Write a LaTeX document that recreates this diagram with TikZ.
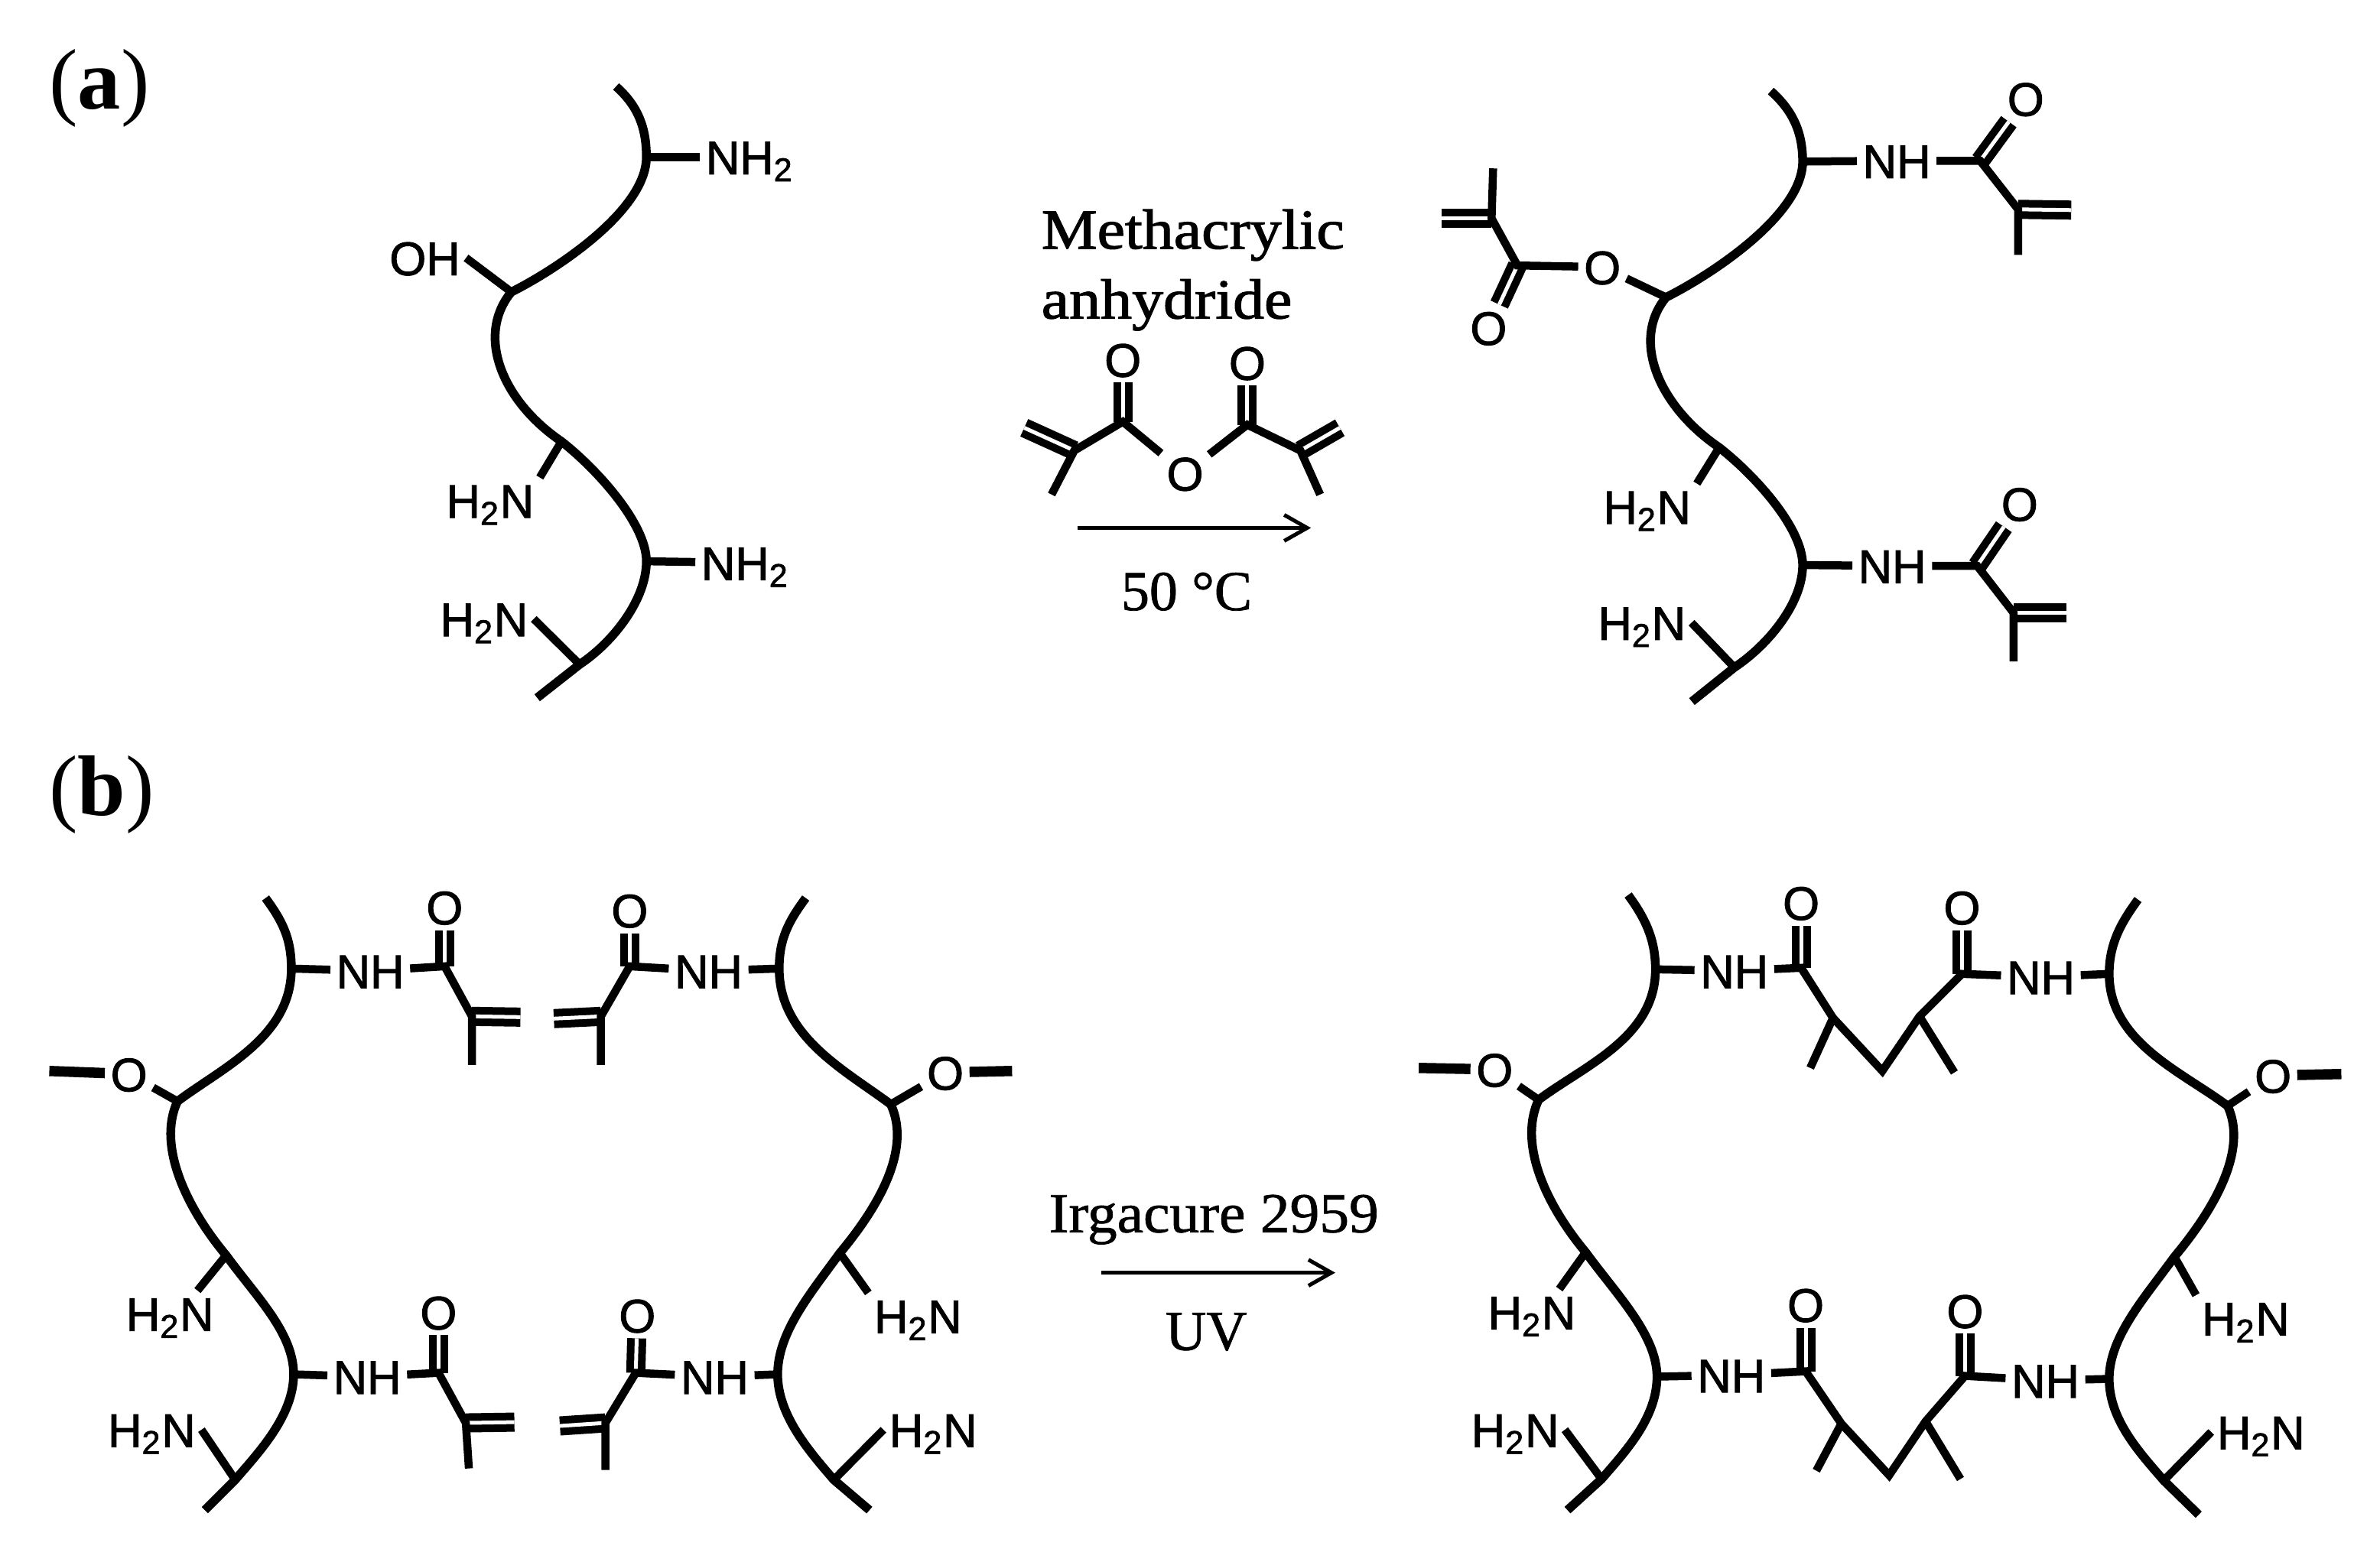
\documentclass[tikz,border=0pt]{standalone}
\usepackage{fontspec}
\setmainfont{Liberation Serif}
\setsansfont{Liberation Sans}
\newfontfamily\atomfont[FakeBold=1.6]{Liberation Sans}
\newfontfamily\capfont[FakeBold=1]{Liberation Serif}
\newfontfamily\widefont[FakeBold=1.6,FakeStretch=1.11]{Liberation Serif}
\newfontfamily\midfont[FakeBold=1,FakeStretch=1.05]{Liberation Serif}
\usetikzlibrary{arrows.meta}

\begin{document}
\begin{tikzpicture}[x=0.00992cm,y=-0.00992cm]

\tikzstyle{atom} = [font=\fontsize{17.5}{20}\selectfont\atomfont, inner sep=0.07cm, text height=0.45cm, text depth=0pt]
\tikzstyle{caption} = [font=\fontsize{21}{26}\selectfont\capfont, inner sep=0pt]
\tikzstyle{panel} = [font=\fontsize{32}{36}\selectfont, inner sep=0pt]
\tikzstyle{chain} = [line width=0.115cm]
\tikzstyle{bond} = [line width=0.105cm]
\tikzstyle{stub} = [line width=0.135cm]
\tikzstyle{dbond} = [line width=0.1cm, double, double distance=0.05cm]
\tikzstyle{arrow} = [line width=0.05cm, -{Straight Barb[length=0.3cm,width=0.34cm]}]

\useasboundingbox (0,0) rectangle (3137,2059);
\fill[white] (0,0) rectangle (3137,2059);

\node (panelA) [panel] at (131,116) {(\textbf{a})};
\node (panelB) [panel] at (134,1048) {(\textbf{b})};

% Starting chain
\coordinate (top1) at (812,114);
\coordinate (c1_1) at (852,207);
\coordinate (c1_2) at (674,385);
\coordinate (c1_3) at (740,582);
\coordinate (c1_4) at (852,740);
\coordinate (c1_5) at (764,876);
\coordinate (end1) at (708,920);
\node (n1_1) [atom] at (988,207) {NH\textsubscript{2}};
\node (oh1) [atom] at (560,340) {OH};
\node (n1_3) [atom] at (646,660) {H\textsubscript{2}N};
\node (n1_4) [atom] at (982,742) {NH\textsubscript{2}};
\node (n1_5) [atom] at (638,816) {H\textsubscript{2}N};

\draw [chain] (top1) .. controls +(28,25) and +(0,-40) .. (c1_1) .. controls +(0,70) and +(60,-30) .. (c1_2) .. controls +(-47,57) and +(-79,-54) .. (c1_3) .. controls +(45,35) and +(0,-50) .. (c1_4) .. controls +(0,50) and +(45,-30) .. (c1_5) -- (end1);
\draw [bond] (c1_1) -- (n1_1);
\draw [bond] (c1_2) -- (oh1.east);
\draw [bond] (c1_3) -- (n1_3.north east);
\draw [bond] (c1_4) -- (n1_4);
\draw [bond] (c1_5) -- (n1_5.east);

% Methacrylic anhydride and reaction arrow
\node (reagent1) [caption, anchor=west, font=\fontsize{21}{26}\selectfont\widefont] at (1372,310) {Methacrylic};
\node (reagent2) [caption, anchor=west, font=\fontsize{21}{26}\selectfont\widefont] at (1372,402) {anhydride};
\node (ox1) [atom] at (1480,474) {O};
\node (ox2) [atom] at (1644,478) {O};
\node (ox3) [atom] at (1562,624) {O};
\coordinate (co1) at (1480,556);
\coordinate (co2) at (1644,560);
\coordinate (ca1) at (1416,594);
\coordinate (ca2) at (1714,594);
\coordinate (vinyl1) at (1350,564);
\coordinate (vinyl2) at (1766,564);
\coordinate (me1) at (1386,652);
\coordinate (me2) at (1740,652);

\draw [dbond] (co1) -- (ox1);
\draw [dbond] (co2) -- (ox2);
\draw [dbond] (ca1) -- (vinyl1);
\draw [dbond] (ca2) -- (vinyl2);
\draw [bond] (me1) -- (ca1) -- (co1) -- (ox3);
\draw [bond] (me2) -- (ca2) -- (co2) -- (ox3);

\coordinate (arrowA1) at (1420,696);
\coordinate (arrowA2) at (1728,696);
\draw [arrow] (arrowA1) -- (arrowA2);
\node (temp) [caption] at (1564,780) {50 °C};

% Methacrylated chain
\coordinate (top2) at (2334,120);
\coordinate (c2_1) at (2376,213);
\coordinate (c2_2) at (2196,392);
\coordinate (c2_3) at (2266,590);
\coordinate (c2_4) at (2376,745);
\coordinate (c2_5) at (2286,880);
\coordinate (end2) at (2230,925);
\node (n2_3) [atom] at (2171,668) {H\textsubscript{2}N};
\node (n2_5) [atom] at (2164,821) {H\textsubscript{2}N};
\node (nh2_1) [atom] at (2500,212) {NH};
\node (nh2_4) [atom] at (2494,746) {NH};
\node (ox2_1) [atom] at (2112,352) {O};
\node (ox2_2) [atom] at (1962,432) {O};
\node (ox2_3) [atom] at (2670,130) {O};
\node (ox2_4) [atom] at (2662,664) {O};
\coordinate (co2_1) at (2000,350);
\coordinate (ca2_1) at (1966,288);
\coordinate (vinyl2_1) at (1900,288);
\coordinate (me2_1) at (1968,222);
\coordinate (co2_3) at (2610,212);
\coordinate (ca2_3) at (2660,276);
\coordinate (vinyl2_3) at (2730,277);
\coordinate (me2_3) at (2660,336);
\coordinate (co2_4) at (2606,746);
\coordinate (ca2_4) at (2654,808);
\coordinate (vinyl2_4) at (2724,808);
\coordinate (me2_4) at (2654,872);

\draw [chain] (top2) .. controls +(28,25) and +(0,-40) .. (c2_1) .. controls +(0,70) and +(60,-30) .. (c2_2) .. controls +(-47,57) and +(-79,-54) .. (c2_3) .. controls +(45,35) and +(0,-50) .. (c2_4) .. controls +(0,50) and +(45,-30) .. (c2_5) -- (end2);
\draw [dbond] (co2_1) -- (ox2_2);
\draw [dbond] (ca2_1) -- (vinyl2_1);
\draw [dbond] (co2_3) -- (ox2_3);
\draw [dbond] (ca2_3) -- (vinyl2_3);
\draw [dbond] (co2_4) -- (ox2_4);
\draw [dbond] (ca2_4) -- (vinyl2_4);
\draw [bond] (c2_3) -- (n2_3.north east);
\draw [bond] (c2_5) -- (n2_5.east);
\draw [bond] (c2_2) -- (ox2_1);
\draw [bond] (ox2_1) -- (co2_1) -- (ca2_1) -- (me2_1);
\draw [bond] (c2_1) -- (nh2_1);
\draw [bond] (nh2_1) -- (co2_3) -- (ca2_3) -- (me2_3);
\draw [bond] (c2_4) -- (nh2_4);
\draw [bond] (nh2_4) -- (co2_4) -- (ca2_4) -- (me2_4);

% Panel b, left pair of chains
\coordinate (top3) at (350,1184);
\coordinate (c3_1) at (384,1277);
\coordinate (c3_2) at (234,1452);
\coordinate (c3_3) at (298,1655);
\coordinate (c3_4) at (387,1812);
\coordinate (c3_5) at (310,1951);
\coordinate (end3) at (270,1991);
\coordinate (top4) at (1062,1184);
\coordinate (c4_1) at (1027,1277);
\coordinate (c4_2) at (1174,1456);
\coordinate (c4_3) at (1107,1652);
\coordinate (c4_4) at (1025,1812);
\coordinate (c4_5) at (1099,1951);
\coordinate (end4) at (1146,1991);
\node (n3_3) [atom] at (224,1732) {H\textsubscript{2}N};
\node (n3_5) [atom] at (200,1885) {H\textsubscript{2}N};
\node (n4_3) [atom] at (1210,1735) {H\textsubscript{2}N};
\node (n4_5) [atom] at (1230,1885) {H\textsubscript{2}N};
\node (ox3_1) [atom] at (170,1416) {O};
\node (ox4_1) [atom] at (1246,1414) {O};
\coordinate (stub3) at (65,1412);
\coordinate (stub4) at (1334,1412);
\node (nh3_1) [atom] at (488,1280) {NH};
\node (nh3_4) [atom] at (484,1815) {NH};
\node (nh4_1) [atom] at (934,1280) {NH};
\node (nh4_4) [atom] at (942,1815) {NH};
\node (ox3_2) [atom] at (586,1196) {O};
\node (ox3_3) [atom] at (578,1730) {O};
\node (ox4_2) [atom] at (830,1200) {O};
\node (ox4_3) [atom] at (840,1734) {O};
\coordinate (co3_2) at (586,1274);
\coordinate (ca3_2) at (622,1340);
\coordinate (vinyl3_2) at (686,1341);
\coordinate (me3_2) at (622,1404);
\coordinate (co3_3) at (578,1810);
\coordinate (ca3_3) at (614,1876);
\coordinate (vinyl3_3) at (678,1875);
\coordinate (me3_3) at (618,1936);
\coordinate (co4_2) at (830,1274);
\coordinate (ca4_2) at (792,1340);
\coordinate (vinyl4_2) at (730,1343);
\coordinate (me4_2) at (792,1404);
\coordinate (co4_3) at (838,1810);
\coordinate (ca4_3) at (798,1876);
\coordinate (vinyl4_3) at (738,1880);
\coordinate (me4_3) at (798,1938);

\draw [chain] (top3) .. controls +(22,30) and +(0,-40) .. (c3_1) .. controls +(0,90) and +(60,-45) .. (c3_2) .. controls +(-28,60) and +(-50,-60) .. (c3_3) .. controls +(40,55) and +(0,-55) .. (c3_4) .. controls +(0,55) and +(30,-35) .. (c3_5) -- (end3);
\draw [chain] (top4) .. controls +(-22,30) and +(0,-40) .. (c4_1) .. controls +(0,90) and +(-60,-45) .. (c4_2) .. controls +(28,60) and +(50,-60) .. (c4_3) .. controls +(-40,55) and +(0,-55) .. (c4_4) .. controls +(0,55) and +(-30,-35) .. (c4_5) -- (end4);
\draw [dbond] (co3_2) -- (ox3_2);
\draw [dbond] (ca3_2) -- (vinyl3_2);
\draw [dbond] (co3_3) -- (ox3_3);
\draw [dbond] (ca3_3) -- (vinyl3_3);
\draw [dbond] (co4_2) -- (ox4_2);
\draw [dbond] (ca4_2) -- (vinyl4_2);
\draw [dbond] (co4_3) -- (ox4_3);
\draw [dbond] (ca4_3) -- (vinyl4_3);
\draw [stub] (stub3) -- (ox3_1);
\draw [stub] (stub4) -- (ox4_1);
\draw [bond] (c3_2) -- (ox3_1);
\draw [bond] (c4_2) -- (ox4_1);
\draw [bond] (c3_3) -- (n3_3.40);
\draw [bond] (c3_5) -- (n3_5.east);
\draw [bond] (c4_3) -- (n4_3.north west);
\draw [bond] (c4_5) -- (n4_5.west);
\draw [bond] (c3_1) -- (nh3_1);
\draw [bond] (nh3_1) -- (co3_2) -- (ca3_2) -- (me3_2);
\draw [bond] (c3_4) -- (nh3_4);
\draw [bond] (nh3_4) -- (co3_3) -- (ca3_3) -- (me3_3);
\draw [bond] (c4_1) -- (nh4_1);
\draw [bond] (nh4_1) -- (co4_2) -- (ca4_2) -- (me4_2);
\draw [bond] (c4_4) -- (nh4_4);
\draw [bond] (nh4_4) -- (co4_3) -- (ca4_3) -- (me4_3);

% Irgacure arrow
\node (initiator) [caption, font=\fontsize{21}{26}\selectfont\midfont] at (1600,1608) {Irgacure 2959};
\coordinate (arrowB1) at (1452,1678);
\coordinate (arrowB2) at (1760,1678);
\draw [arrow] (arrowB1) -- (arrowB2);
\node (light) [caption] at (1590,1756) {UV};

% Panel b, crosslinked pair of chains
\coordinate (top5) at (2146,1180);
\coordinate (c5_1) at (2182,1278);
\coordinate (c5_2) at (2028,1450);
\coordinate (c5_3) at (2090,1651);
\coordinate (c5_4) at (2184,1815);
\coordinate (c5_5) at (2111,1950);
\coordinate (end5) at (2066,1991);
\coordinate (top6) at (2818,1186);
\coordinate (c6_1) at (2780,1284);
\coordinate (c6_2) at (2936,1458);
\coordinate (c6_3) at (2866,1657);
\coordinate (c6_4) at (2780,1818);
\coordinate (c6_5) at (2852,1952);
\coordinate (end6) at (2898,1997);
\node (n5_3) [atom] at (2019,1730) {H\textsubscript{2}N};
\node (n5_5) [atom] at (1997,1885) {H\textsubscript{2}N};
\node (n6_3) [atom] at (2960,1738) {H\textsubscript{2}N};
\node (n6_5) [atom] at (2980,1888) {H\textsubscript{2}N};
\node (ox5_1) [atom] at (1970,1410) {O};
\node (ox6_1) [atom] at (2996,1418) {O};
\coordinate (stub5) at (1870,1408);
\coordinate (stub6) at (3086,1416);
\node (nh5_1) [atom] at (2286,1280) {NH};
\node (nh5_4) [atom] at (2282,1813) {NH};
\node (nh6_1) [atom] at (2690,1288) {NH};
\node (nh6_4) [atom] at (2696,1820) {NH};
\node (ox5_2) [atom] at (2374,1190) {O};
\node (ox5_3) [atom] at (2380,1720) {O};
\node (ox6_2) [atom] at (2586,1196) {O};
\node (ox6_3) [atom] at (2590,1728) {O};
\coordinate (co5_2) at (2374,1276);
\coordinate (ca5_2) at (2416,1342);
\coordinate (bridge1) at (2481,1412);
\coordinate (me5_2) at (2386,1408);
\coordinate (co5_3) at (2380,1808);
\coordinate (ca5_3) at (2427,1877);
\coordinate (bridge2) at (2490,1945);
\coordinate (me5_3) at (2394,1939);
\coordinate (co6_2) at (2586,1284);
\coordinate (ca6_2) at (2530,1340);
\coordinate (me6_2) at (2576,1414);
\coordinate (co6_3) at (2590,1814);
\coordinate (ca6_3) at (2538,1874);
\coordinate (me6_3) at (2584,1950);

\draw [chain] (top5) .. controls +(22,30) and +(0,-40) .. (c5_1) .. controls +(0,90) and +(60,-45) .. (c5_2) .. controls +(-28,60) and +(-50,-60) .. (c5_3) .. controls +(40,55) and +(0,-55) .. (c5_4) .. controls +(0,55) and +(30,-35) .. (c5_5) -- (end5);
\draw [chain] (top6) .. controls +(-22,30) and +(0,-40) .. (c6_1) .. controls +(0,90) and +(-60,-45) .. (c6_2) .. controls +(28,60) and +(50,-60) .. (c6_3) .. controls +(-40,55) and +(0,-55) .. (c6_4) .. controls +(0,55) and +(-30,-35) .. (c6_5) -- (end6);
\draw [dbond] (co5_2) -- (ox5_2);
\draw [dbond] (co5_3) -- (ox5_3);
\draw [dbond] (co6_2) -- (ox6_2);
\draw [dbond] (co6_3) -- (ox6_3);
\draw [stub] (stub5) -- (ox5_1);
\draw [stub] (stub6) -- (ox6_1);
\draw [bond] (c5_2) -- (ox5_1);
\draw [bond] (c6_2) -- (ox6_1);
\draw [bond] (c5_3) -- (n5_3.40);
\draw [bond] (c5_5) -- (n5_5.east);
\draw [bond] (c6_3) -- (n6_3.north west);
\draw [bond] (c6_5) -- (n6_5.west);
\draw [bond] (c5_1) -- (nh5_1);
\draw [bond] (c5_4) -- (nh5_4);
\draw [bond] (c6_1) -- (nh6_1);
\draw [bond] (c6_4) -- (nh6_4);
\draw [bond] (nh5_1) -- (co5_2) -- (ca5_2) -- (bridge1) -- (ca6_2) -- (co6_2) -- (nh6_1);
\draw [bond] (nh5_4) -- (co5_3) -- (ca5_3) -- (bridge2) -- (ca6_3) -- (co6_3) -- (nh6_4);
\draw [bond] (ca5_2) -- (me5_2);
\draw [bond] (ca6_2) -- (me6_2);
\draw [bond] (ca5_3) -- (me5_3);
\draw [bond] (ca6_3) -- (me6_3);

\end{tikzpicture}
\end{document}
